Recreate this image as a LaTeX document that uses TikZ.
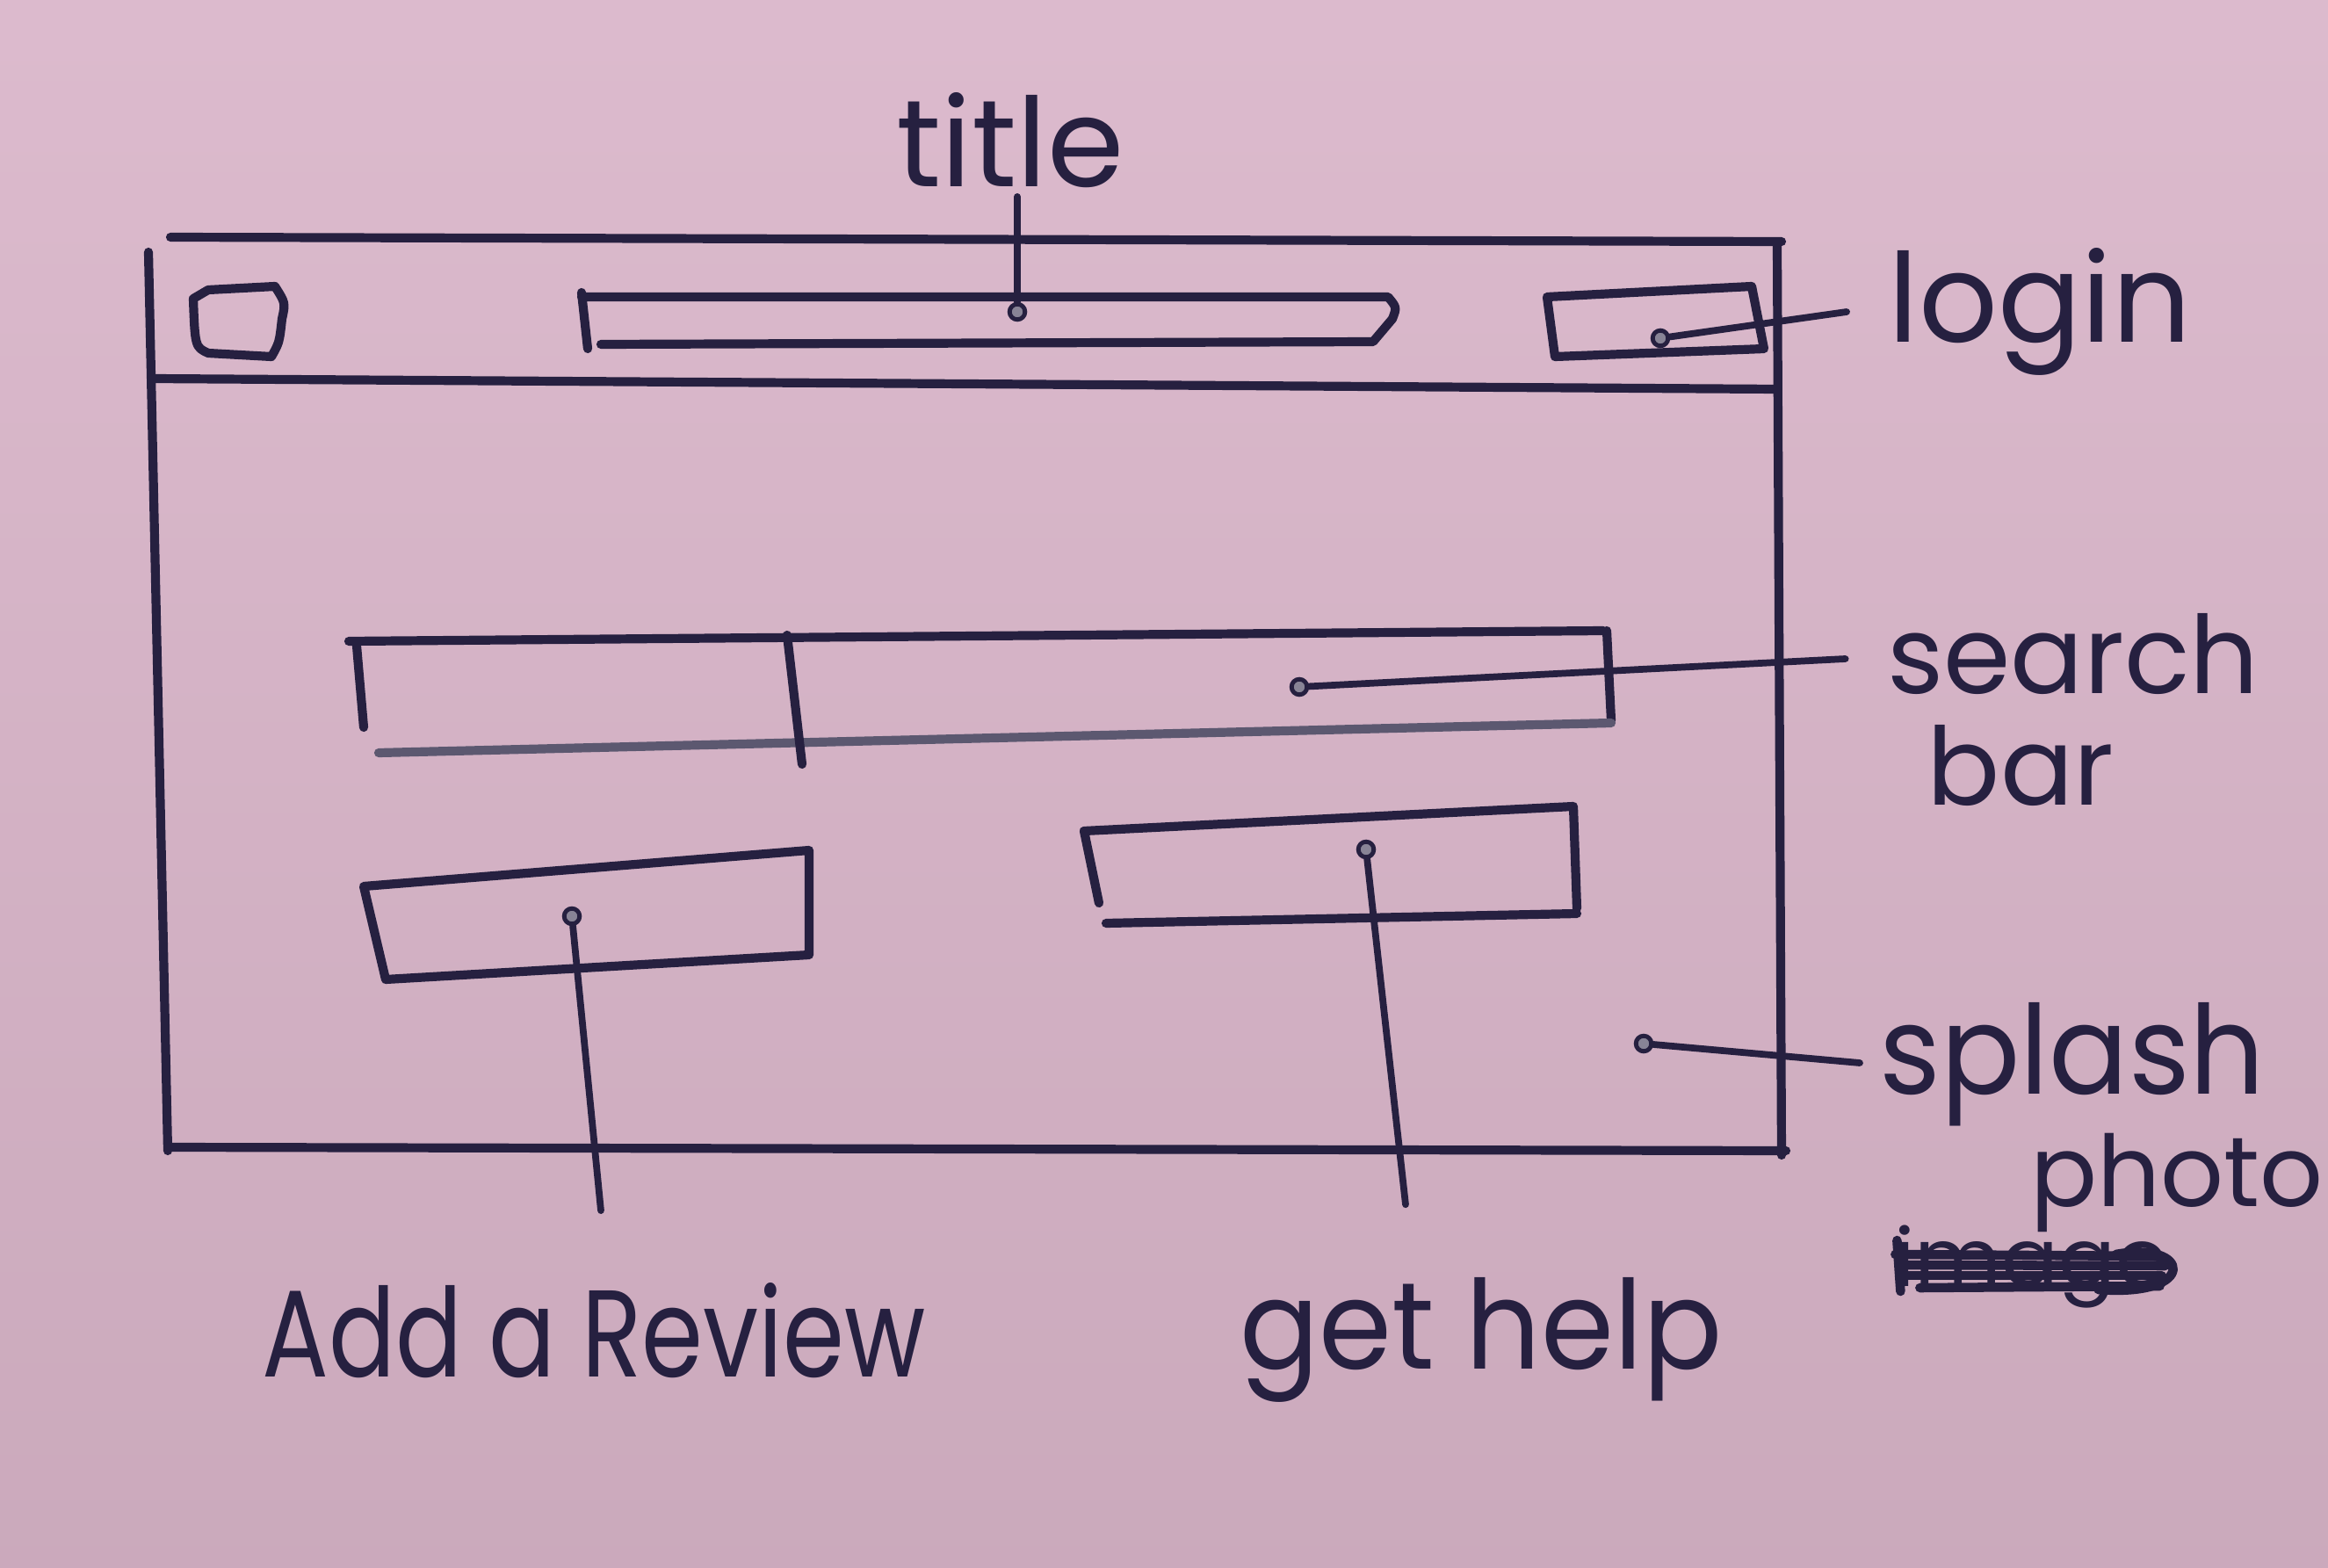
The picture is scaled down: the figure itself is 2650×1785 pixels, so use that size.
\documentclass[tikz,border=0pt]{standalone}
\usepackage{fontspec}
\usepackage{graphicx}
\setmainfont{Poppins}
\usetikzlibrary{calc}
\definecolor{paper}{RGB}{218,182,202}
\definecolor{ink}{RGB}{38,32,64}
\newcommand\handtext[2]{\scalebox{#1}[1]{#2}}
\begin{document}
\begin{tikzpicture}[x=0.01cm,y=-0.01cm,
  pen/.style={draw=ink,line width=2.9pt,line cap=round,line join=round},
  thinpen/.style={draw=ink,line width=2.2pt,line cap=round},
  pin/.style={circle,draw=ink,fill=ink!55,line width=1.4pt,inner sep=0pt,minimum size=5pt},
  label/.style={text=ink,font=\fontsize{40}{46}\selectfont,inner sep=2pt},
  smalllabel/.style={label,font=\fontsize{35}{40}\selectfont}]
% paper
\fill[top color=paper!94!white,bottom color=paper!93!black] (0,0) rectangle (2650,1785);
\useasboundingbox (0,0) rectangle (2650,1785);

% window frame
\draw[pen] (194,270) -- (2028,275);
\draw[pen] (169,287) -- (191,1310);
\draw[pen] (2023,279) -- (2028,1315);
\draw[pen] (191,1306) -- (2033,1310);
\draw[pen] (174,431) -- (2023,443);

% header: menu square, title bar, login button
\draw[pen] (237,330) -- (313,326) .. controls (325,345) .. (321,363) .. controls (318,390) .. (309,406) -- (237,402) .. controls (222,395) .. (220,340) -- cycle;
\draw[pen] (662,338) -- (1580,338) .. controls (1590,350) .. (1585,363) -- (1563,389) -- (684,392);
\draw[pen] (662,333) -- (669,397);
\draw[pen] (1761,338) -- (1994,326) -- (2008,397) -- (1770,406) -- cycle;

% search bar
\draw[pen] (397,730) -- (1825,718);
\draw[pen] (1829,718) -- (1834,820);
\draw[pen,draw=ink!75] (1834,823) -- (431,857);
\draw[pen] (406,735) -- (414,828);
\draw[pen] (896,723) -- (913,870);

% add a review button
\draw[pen] (414,1009) -- (921,968) -- (921,1087) -- (439,1115) -- cycle;
% get help button
\draw[pen] (1234,946) -- (1791,918) -- (1795,1034);
\draw[pen] (1234,946) -- (1251,1028);
\draw[pen] (1259,1051) -- (1795,1040);

% pins
\node[pin] (ptitle) at (1158,355) {};
\node[pin] (plogin) at (1890,385) {};
\node[pin] (psearch) at (1479,782) {};
\node[pin] (preview) at (651,1043) {};
\node[pin] (phelp) at (1555,967) {};
\node[pin] (psplash) at (1871,1188) {};

% labels
\node[label] (ltitle) at (1150,160) {title};
\node[label] (llogin) at (2322,355) {login};
\node[smalllabel] (lsearch) at (2360,745) {search};
\node[smalllabel] (lbar) at (2300,872) {bar};
\node[label,inner sep=0pt] (lsplash) at (2359,1212) {\handtext{0.95}{splash}};
\node[smalllabel,inner sep=0pt,font=\fontsize{32}{36}\selectfont] (lphoto) at (2478,1346) {photo};
\node[smalllabel,inner sep=0pt,font=\fontsize{26}{30}\selectfont] (limage) at (2312,1442) {\handtext{1.05}{image}};
\node[label] (lreview) at (676,1515) {\handtext{0.8}{Add a Review}};
\node[label] (lhelp) at (1686,1525) {\handtext{0.95}{get help}};

% strike-out of the rejected word
\begin{scope}[pen,line width=3pt]
\draw ($(limage.west)+(2,-14)$) -- ($(limage.east)+(-12,-12)$);
\draw ($(limage.west)+(6,-2)$) -- ($(limage.east)+(-4,-1)$);
\draw ($(limage.west)+(8,10)$) -- ($(limage.east)+(-8,10)$);
\draw ($(limage.west)+(30,24)$) -- ($(limage.east)+(-10,22)$);
\draw ($(limage.east)+(-60,-14)$) .. controls ($(limage.east)+(25,-30)$) and ($(limage.east)+(35,35)$) .. ($(limage.east)+(-80,26)$);
\draw ($(limage.west)+(4,-30)$) -- ($(limage.west)+(8,28)$);
\end{scope}

% connectors
\draw[thinpen] (ptitle) -- ($(ltitle.south)+(8,2)$);
\draw[thinpen] (plogin) -- ($(llogin.west)+(-40,0)$);
\draw[thinpen] (psearch) -- ($(lsearch.west)+(-40,5)$);
\draw[thinpen] (preview) -- ($(lreview.north)+(8,-75)$);
\draw[thinpen] (phelp) -- ($(lhelp.north)+(-86,-75)$);
\draw[thinpen] (psplash) -- ($(lsplash.west)+(-22,-2)$);
\end{tikzpicture}
\end{document}
